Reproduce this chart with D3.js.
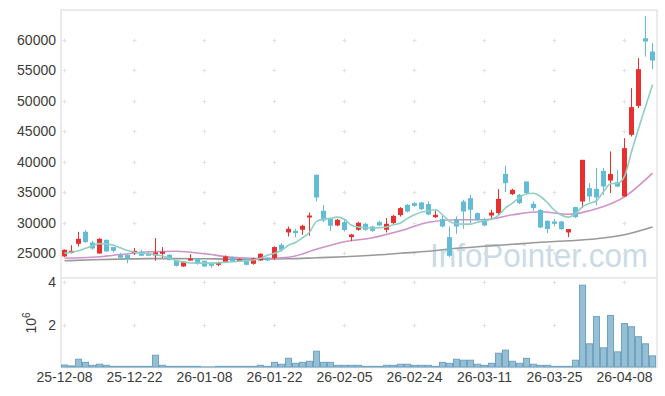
<!DOCTYPE html>
<html>
<head>
<meta charset="utf-8">
<script src="https://cdnjs.cloudflare.com/ajax/libs/d3/7.8.5/d3.min.js"></script>
<style>
  body { margin: 0; background: #fff; }
  text { font-family: "Liberation Sans", Arial, sans-serif; }
</style>
</head>
<body>
<script>

// trading days (YY-MM-DD)
var dates = [
    "25-12-08","25-12-09","25-12-10","25-12-11","25-12-12","25-12-15","25-12-16","25-12-17","25-12-18","25-12-19",
    "25-12-22","25-12-23","25-12-24","25-12-26","25-12-29","25-12-30","26-01-02","26-01-05","26-01-06","26-01-07",
    "26-01-08","26-01-09","26-01-12","26-01-13","26-01-14","26-01-15","26-01-16","26-01-19","26-01-20","26-01-21",
    "26-01-22","26-01-23","26-01-26","26-01-27","26-01-28","26-01-29","26-01-30","26-02-02","26-02-03","26-02-04",
    "26-02-05","26-02-06","26-02-09","26-02-10","26-02-11","26-02-12","26-02-13","26-02-19","26-02-20","26-02-23",
    "26-02-24","26-02-25","26-02-26","26-02-27","26-03-03","26-03-04","26-03-05","26-03-06","26-03-09","26-03-10",
    "26-03-11","26-03-12","26-03-13","26-03-16","26-03-17","26-03-18","26-03-19","26-03-20","26-03-23","26-03-24",
    "26-03-25","26-03-26","26-03-27","26-03-30","26-03-31","26-04-01","26-04-02","26-04-03","26-04-06","26-04-07",
    "26-04-08","26-04-09","26-04-10","26-04-13","26-04-14"
];

var open = [
    24450,25000,26530,28500,26740,24940,27190,25990,24680,24680,
    25000,25220,24890,24610,24890,24730,23790,22810,23850,24180,
    23740,23340,23080,23530,24350,23790,24070,23250,23790,24230,
    24180,26370,28390,28660,28830,30850,37850,31950,30630,29540,
    30090,27630,28830,29810,29370,30090,28830,29930,31240,32930,
    33210,33310,33050,30900,30580,27630,30470,33470,34020,31560,
    30580,31170,31560,38000,34680,34570,36750,33090,32110,30300,
    30190,30190,28390,32550,33470,35670,35550,38500,36910,36640,
    34290,44410,49170,60270,58080
];
var high = [
    25600,26300,28500,28780,27020,27450,27200,26000,25000,24750,
    25830,25550,25270,27460,25990,24800,23850,23700,24840,24200,
    23750,23500,23600,24600,24400,24100,24150,24250,24950,24300,
    26100,26650,29370,29000,29650,31660,37900,32880,30700,30600,
    30470,28150,30150,30000,29500,30300,30750,31290,32550,33050,
    33350,33400,33500,32000,31110,29370,31020,33750,34570,31700,
    30800,32110,35500,39330,35550,34700,36800,33470,32200,30400,
    30600,30300,28940,32600,40310,36480,38950,38950,41680,38670,
    43870,52070,57000,63940,59460
];
var low = [
    24350,24950,26100,26700,25550,24890,25250,25100,24200,23340,
    24720,24500,24650,23740,24180,23750,22800,22750,23800,23100,
    22700,22550,22850,23400,23550,23550,23000,23100,23750,23700,
    23900,25220,27730,27600,28000,27840,33470,30090,28660,29400,
    28550,26970,28660,28660,28450,29400,28390,29800,31000,31700,
    32600,32050,31200,30750,29200,24350,28170,28990,29930,30300,
    29400,30580,31290,35010,34500,33050,34570,31950,29100,28280,
    29400,28800,27630,30750,32390,33470,32820,34570,34850,35800,
    34290,44140,48790,57260,55190
];
var close = [
    25550,25380,27350,26800,25760,27350,25270,25380,24230,24120,
    25380,24560,24680,25100,25220,23860,22920,23630,24100,23250,
    22810,22920,23470,24450,23630,24020,23080,24120,24890,23790,
    25990,25550,28990,28280,29490,31170,34130,30350,29490,30470,
    28780,28060,29980,28830,28660,29540,29810,31110,32390,31830,
    32770,32220,31340,31290,29370,24560,29370,31830,32110,30470,
    29540,31660,33910,36480,35390,33210,34850,32390,29200,28940,
    29810,28940,28940,30910,40310,34290,34130,35930,38000,35930,
    42230,48960,55190,59720,56600
];
var volume = [
    95000,50000,365000,220000,80000,130000,80000,30000,30000,30000,
    30000,30000,30000,555000,80000,30000,30000,30000,30000,30000,
    8000,8000,30000,30000,30000,30000,30000,30000,80000,30000,
    220000,130000,410000,175000,220000,270000,745000,220000,220000,80000,
    80000,80000,80000,30000,30000,30000,80000,80000,130000,130000,
    80000,80000,80000,30000,220000,175000,365000,320000,320000,130000,
    80000,175000,650000,795000,270000,175000,410000,130000,80000,80000,
    30000,30000,30000,320000,3860000,1095000,2380000,905000,2430000,715000,
    2050000,1900000,1430000,1095000,525000
];

// 5-day average, one value per day
var ma5 = [
    25000,25130,25380,25790,26200,26560,26530,26280,25870,25430,
    25130,24970,24890,24720,24510,24150,23740,23530,23380,23360,
    23360,23360,23410,23490,23580,23690,23770,23870,24150,24640,
    24970,25460,26280,26740,27510,28420,30220,30580,30710,30910,
    30550,29560,29270,29190,29120,29150,29290,29650,29930,30710,
    31290,31700,31940,32110,31290,30220,29810,29760,29760,30060,
    30300,30550,31210,32440,33210,34080,34730,34820,34290,33260,
    32030,31210,30910,31530,32600,33180,33590,35060,36370,36460,
    37600,41620,45400,49010,52620
];
// longer averages, read every 4th day
var maIdx = [0,4,8,12,16,20,24,28,32,36,40,44,48,52,56,60,64,68,72,76,80,84];
var ma20 = [24150,24320,24760,25220,25300,24890,24320,24120,24320,25630,26860,
            27510,28660,30060,30470,30470,31290,31780,31370,32270,34240,38130];
var ma60 = [23740,23910,24020,24100,24100,24070,24020,24020,24070,24230,24400,
            24640,24970,25300,25790,26120,26450,26780,27020,27350,28010,29270];

var priceTicks = [25000,30000,35000,40000,45000,50000,55000,60000];
var volTicks = [2000000, 4000000];
var tickEvery = 10;

var W = 665, H = 396;
var left = 61, right = 656;
var priceTop = 10, priceBottom = 272;
var volTop = 278, volBottom = 367;

var upColor = "#e8302e", downColor = "#62bcd7";
var frameColor = "#e4e4e4";

var svg = d3.select("body").append("svg")
    .attr("width", W)
    .attr("height", H);

var x = d3.scaleBand().domain(d3.range(dates.length)).range([left, right]).padding(0);
var cx = function(i) { return x(i) + x.bandwidth() / 2; };

var y = d3.scaleLinear().domain([21900, 64900]).range([priceBottom, priceTop]);
var yv = d3.scaleLinear().domain([0, 4200000]).range([volBottom, volTop]);

// watermark behind everything
svg.append("text")
    .attr("x", 430)
    .attr("y", 267)
    .attr("font-family", "DejaVu Sans")
    .attr("font-size", 33)
    .attr("textLength", 218)
    .attr("lengthAdjust", "spacingAndGlyphs")
    .attr("fill", "#cadbe6")
    .text("InfoPointer.com");

// frame
var frame = svg.append("g").attr("stroke", frameColor).attr("stroke-width", 1.5).attr("fill", "none");
frame.append("line").attr("x1", left).attr("x2", right + 1).attr("y1", priceTop).attr("y2", priceTop);
frame.append("line").attr("x1", left).attr("x2", right + 1).attr("y1", volTop).attr("y2", volTop);
frame.append("line").attr("x1", left).attr("x2", right + 1).attr("y1", volBottom + 0.5).attr("y2", volBottom + 0.5);
frame.append("line").attr("x1", left).attr("x2", left).attr("y1", priceTop).attr("y2", volBottom);
frame.append("line").attr("x1", right + 1).attr("x2", right + 1).attr("y1", priceTop).attr("y2", volBottom);

// grid crosses at tick intersections
var tickIdx = d3.range(0, dates.length, tickEvery);
var crossY = priceTicks.map(y).concat(volTicks.map(yv));
var crosses = svg.append("g").attr("stroke", "#e2e2e2").attr("stroke-width", 1);
tickIdx.forEach(function(i) {
    crossY.forEach(function(py) {
        var px = Math.floor(cx(i)) + 0.5, pyy = Math.round(py) + 0.5;
        crosses.append("line").attr("x1", px - 2).attr("x2", px + 2).attr("y1", pyy).attr("y2", pyy);
        crosses.append("line").attr("x1", px).attr("x2", px).attr("y1", pyy - 2).attr("y2", pyy + 2);
    });
});

// y axis labels
svg.append("g").selectAll("text").data(priceTicks).join("text")
    .attr("x", 56)
    .attr("y", function(d) { return y(d) + 5; })
    .attr("text-anchor", "end")
    .attr("font-size", 14)
    .attr("fill", "#3c3c3c")
    .text(function(d) { return d; });

svg.append("g").selectAll("text").data(volTicks).join("text")
    .attr("x", 56)
    .attr("y", function(d) { return yv(d) + 5; })
    .attr("text-anchor", "end")
    .attr("font-size", 14)
    .attr("fill", "#3c3c3c")
    .text(function(d) { return d / 1e6; });

var unit = svg.append("text")
    .attr("transform", "translate(36,323) rotate(-90)")
    .attr("text-anchor", "middle")
    .attr("font-size", 14)
    .attr("fill", "#3c3c3c");
unit.append("tspan").text("10");
unit.append("tspan").attr("font-size", 10).attr("dy", -6).text("6");

// x labels
svg.append("g").selectAll("text").data(tickIdx).join("text")
    .attr("x", function(i) { return cx(i); })
    .attr("y", 382)
    .attr("text-anchor", "middle")
    .attr("font-size", 14)
    .attr("fill", "#3c3c3c")
    .text(function(i) { return dates[i]; });

// volume bars
svg.append("g").selectAll("rect").data(volume).join("rect")
    .attr("x", function(d, i) { return x(i) + 0.5; })
    .attr("width", x.bandwidth() - 1)
    .attr("y", function(d) { return yv(d); })
    .attr("height", function(d) { return volBottom - yv(d); })
    .attr("fill", "#97bfd4")
    .attr("stroke", "#6fa3c3")
    .attr("stroke-width", 1);

// moving averages
var lineFull = d3.line()
    .x(function(d, i) { return cx(i); })
    .y(function(d) { return y(d); })
    .curve(d3.curveMonotoneX);
var lineSparse = d3.line()
    .x(function(d, k) { return cx(maIdx[k]); })
    .y(function(d) { return y(d); })
    .curve(d3.curveMonotoneX);

svg.append("path").attr("d", lineSparse(ma60))
    .attr("fill", "none").attr("stroke", "#999999").attr("stroke-width", 1.6);
svg.append("path").attr("d", lineSparse(ma20))
    .attr("fill", "none").attr("stroke", "#cf92c9").attr("stroke-width", 1.6);

// candles
var candles = svg.append("g");
d3.range(dates.length).forEach(function(i) {
    var col = close[i] >= open[i] ? upColor : downColor;
    var px = Math.floor(cx(i)) + 0.5;
    candles.append("line")
        .attr("x1", px).attr("x2", px)
        .attr("y1", y(high[i])).attr("y2", y(low[i]))
        .attr("stroke", col)
        .attr("stroke-width", 1);
    var top = y(Math.max(open[i], close[i]));
    var bot = y(Math.min(open[i], close[i]));
    candles.append("rect")
        .attr("x", Math.floor(cx(i)) - 2)
        .attr("width", 5)
        .attr("y", top)
        .attr("height", Math.max(2, bot - top))
        .attr("fill", col);
});

svg.append("path").attr("d", lineFull(ma5))
    .attr("fill", "none").attr("stroke", "#8fcfc2").attr("stroke-width", 1.6);

</script>
</body>
</html>
